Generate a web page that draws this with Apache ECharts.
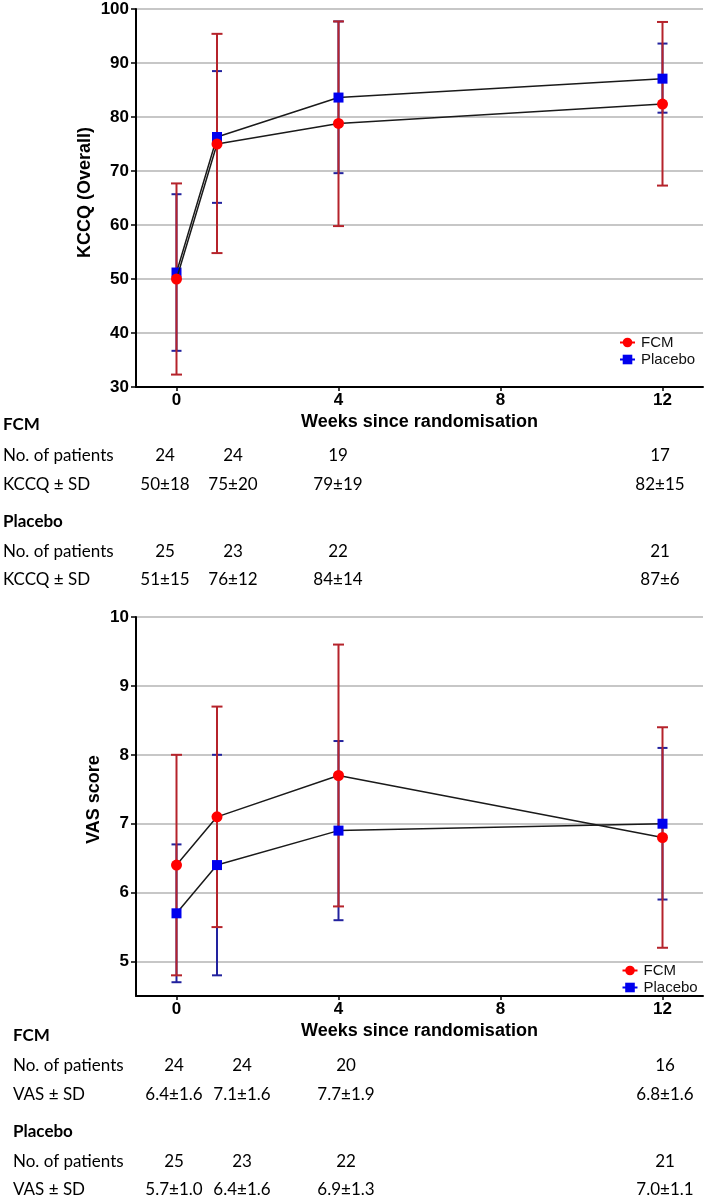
<!DOCTYPE html>
<html>
<head>
<meta charset="utf-8">
<script src="https://cdn.jsdelivr.net/npm/echarts@6/dist/echarts.min.js"></script>
<style>
html,body{margin:0;padding:0;background:#fff;}
#main{width:709px;height:1199px;}
</style>
</head>
<body>
<div id="main"></div>
<script>
// ---- data ----
const weeks = [0, 1, 4, 12];
const xTicks = [0, 4, 8, 12];

// KCCQ (Overall)
const kccqFcmMean = [50, 75, 78.8, 82.4];
const kccqFcmLow  = [32.3, 54.8, 59.8, 67.3];
const kccqFcmHigh = [67.7, 95.4, 97.7, 97.6];
const kccqPlaMean = [51.2, 76.3, 83.6, 87.1];
const kccqPlaLow  = [36.7, 64.1, 69.6, 80.8];
const kccqPlaHigh = [65.7, 88.5, 97.7, 93.6];
const kccqYTicks = [30, 40, 50, 60, 70, 80, 90, 100];

// VAS score
const vasFcmMean = [6.4, 7.1, 7.7, 6.8];
const vasFcmLow  = [4.8, 5.5, 5.8, 5.2];
const vasFcmHigh = [8.0, 8.7, 9.6, 8.4];
const vasPlaMean = [5.7, 6.4, 6.9, 7.0];
const vasPlaLow  = [4.7, 4.8, 5.6, 5.9];
const vasPlaHigh = [6.7, 8.0, 8.2, 8.1];
const vasYTicks = [5, 6, 7, 8, 9, 10];

// tables
const kccqFcmN    = ['24', '24', '19', '17'];
const kccqFcmText = ['50±18', '75±20', '79±19', '82±15'];
const kccqPlaN    = ['25', '23', '22', '21'];
const kccqPlaText = ['51±15', '76±12', '84±14', '87±6'];
const vasFcmN     = ['24', '24', '20', '16'];
const vasFcmText  = ['6.4±1.6', '7.1±1.6', '7.7±1.9', '6.8±1.6'];
const vasPlaN     = ['25', '23', '22', '21'];
const vasPlaText  = ['5.7±1.0', '6.4±1.6', '6.9±1.3', '7.0±1.1'];

// ---- styles ----
const AX_FONT = '"Liberation Sans", Arial, Helvetica, sans-serif';
const TAB_FONT = 'Lato, "Open Sans", sans-serif';
const RED = '#ff0000', RED_ERR = '#b5232b';
const BLUE = '#0000ee', BLUE_ERR = '#22229e';

function errRender(color, capHalf) {
  return function (params, api) {
    const x = api.value(0), lo = api.value(1), hi = api.value(2);
    const a = api.coord([x, lo]), b = api.coord([x, hi]);
    const st = { stroke: color, lineWidth: 2 };
    return {
      type: 'group',
      children: [
        { type: 'line', shape: { x1: a[0], y1: a[1], x2: b[0], y2: b[1] }, style: st },
        { type: 'line', shape: { x1: a[0] - capHalf, y1: a[1], x2: a[0] + capHalf, y2: a[1] }, style: st },
        { type: 'line', shape: { x1: b[0] - capHalf, y1: b[1], x2: b[0] + capHalf, y2: b[1] }, style: st }
      ]
    };
  };
}
function errData(lo, hi) { return weeks.map((w, i) => [w, lo[i], hi[i]]); }
function lineData(m) { return weeks.map((w, i) => [w, m[i]]); }

function xAxisOpt(gi) {
  return {
    type: 'value', gridIndex: gi, min: -1, max: 13,
    name: 'Weeks since randomisation', nameLocation: 'middle', nameGap: 26,
    nameTextStyle: { fontFamily: AX_FONT, fontWeight: 'bold', fontSize: 18, color: '#000' },
    axisLine: { show: true, onZero: false, lineStyle: { color: '#000', width: 2 } },
    axisTick: { show: true, length: 4, customValues: xTicks, lineStyle: { color: '#000', width: 1.5 } },
    axisLabel: { customValues: xTicks, margin: 5, fontFamily: AX_FONT, fontWeight: 'bold', fontSize: 17, color: '#000' },
    splitLine: { show: false }
  };
}
function yAxisOpt(gi, name, min, max, ticks, gap, shift) {
  return {
    type: 'value', gridIndex: gi, min: min, max: max, position: 'left',
    name: name, nameLocation: 'middle', nameGap: gap, nameRotate: 90, nameMoveOverlap: false,
    nameTextStyle: { fontFamily: AX_FONT, fontWeight: 'bold', fontSize: 18, color: '#000', padding: [0, 0, 0, shift] },
    axisLine: { show: true, onZero: false, lineStyle: { color: '#000', width: 2 } },
    axisTick: { show: true, length: 5, customValues: ticks, lineStyle: { color: '#000', width: 1.5 } },
    axisLabel: { customValues: ticks, margin: 7, fontFamily: AX_FONT, fontWeight: 'bold', fontSize: 17, color: '#000' },
    splitLine: { show: true, lineStyle: { color: '#b4b4b4', width: 1.5 } }
  };
}
function seriesFor(gi, fM, fL, fH, pM, pL, pH) {
  return [
    { name: 'Placebo SD', type: 'custom', xAxisIndex: gi, yAxisIndex: gi, renderItem: errRender(BLUE_ERR, 5),
      encode: { x: 0, y: [1, 2] }, data: errData(pL, pH), z: 2, silent: true },
    { name: 'FCM SD', type: 'custom', xAxisIndex: gi, yAxisIndex: gi, renderItem: errRender(RED_ERR, 5.5),
      encode: { x: 0, y: [1, 2] }, data: errData(fL, fH), z: 3, silent: true },
    { name: 'Placebo', type: 'line', xAxisIndex: gi, yAxisIndex: gi, data: lineData(pM), z: 4,
      symbol: 'rect', symbolSize: 10, itemStyle: { color: BLUE }, lineStyle: { color: '#1a1a1a', width: 1.5 } },
    { name: 'FCM', type: 'line', xAxisIndex: gi, yAxisIndex: gi, data: lineData(fM), z: 5,
      symbol: 'circle', symbolSize: 11, itemStyle: { color: RED }, lineStyle: { color: '#1a1a1a', width: 1.5 } }
  ];
}
function legendOpt(left, top) {
  return {
    left: left, top: top, orient: 'vertical', padding: 0, itemGap: 2, itemWidth: 15, itemHeight: 12,
    textStyle: { fontFamily: AX_FONT, fontSize: 15, color: '#111', lineHeight: 13, padding: [0, 0, 0, 1] },
    data: [
      { name: 'FCM', itemStyle: { color: RED }, lineStyle: { color: RED, width: 2 } },
      { name: 'Placebo', itemStyle: { color: BLUE }, lineStyle: { color: BLUE, width: 2 } }
    ]
  };
}

// table graphics
function tableTexts(leftX, cols, rowsY, n1, t1, n2, t2, label) {
  const out = [];
  const base = { fontFamily: TAB_FONT, fontSize: 17, fill: '#000', verticalAlign: 'middle' };
  function txt(s, x, y, align, bold) {
    out.push({ type: 'text', style: Object.assign({}, base, { text: s, x: x, y: y, align: align, fontWeight: bold ? 'bold' : 'normal' }) });
  }
  txt('FCM', leftX, rowsY[0], 'left', true);
  txt('No. of patients', leftX, rowsY[1], 'left', false);
  txt(label, leftX, rowsY[2], 'left', false);
  txt('Placebo', leftX, rowsY[3], 'left', true);
  txt('No. of patients', leftX, rowsY[4], 'left', false);
  txt(label, leftX, rowsY[5], 'left', false);
  cols.forEach((cx, i) => {
    txt(n1[i], cx, rowsY[1], 'center');
    txt(t1[i], cx, rowsY[2], 'center');
    txt(n2[i], cx, rowsY[4], 'center');
    txt(t2[i], cx, rowsY[5], 'center');
  });
  return out;
}

const graphics = [].concat(
  tableTexts(3, [165, 233, 338, 660], [425, 456, 485, 521.5, 551.5, 580],
    kccqFcmN, kccqFcmText, kccqPlaN, kccqPlaText, 'KCCQ ± SD'),
  tableTexts(13, [174, 242, 346, 665], [1036, 1066, 1095, 1131.5, 1161.5, 1190],
    vasFcmN, vasFcmText, vasPlaN, vasPlaText, 'VAS ± SD')
);

const chart = echarts.init(document.getElementById('main'), null, { renderer: 'canvas' });
chart.setOption({
  animation: false,
  backgroundColor: '#fff',
  grid: [
    { left: 136, top: 9, width: 567, height: 378 },
    { left: 136, top: 617, width: 567, height: 379 }
  ],
  xAxis: [xAxisOpt(0), xAxisOpt(1)],
  yAxis: [
    yAxisOpt(0, 'KCCQ (Overall)', 30, 100, kccqYTicks, 42, 11),
    yAxisOpt(1, 'VAS score', 4.5, 10, vasYTicks, 33, 14)
  ],
  legend: [legendOpt(619, 335), legendOpt(621.5, 963)],
  series: [].concat(
    seriesFor(0, kccqFcmMean, kccqFcmLow, kccqFcmHigh, kccqPlaMean, kccqPlaLow, kccqPlaHigh),
    seriesFor(1, vasFcmMean, vasFcmLow, vasFcmHigh, vasPlaMean, vasPlaLow, vasPlaHigh)
  ),
  graphic: graphics
});
</script>
</body>
</html>
